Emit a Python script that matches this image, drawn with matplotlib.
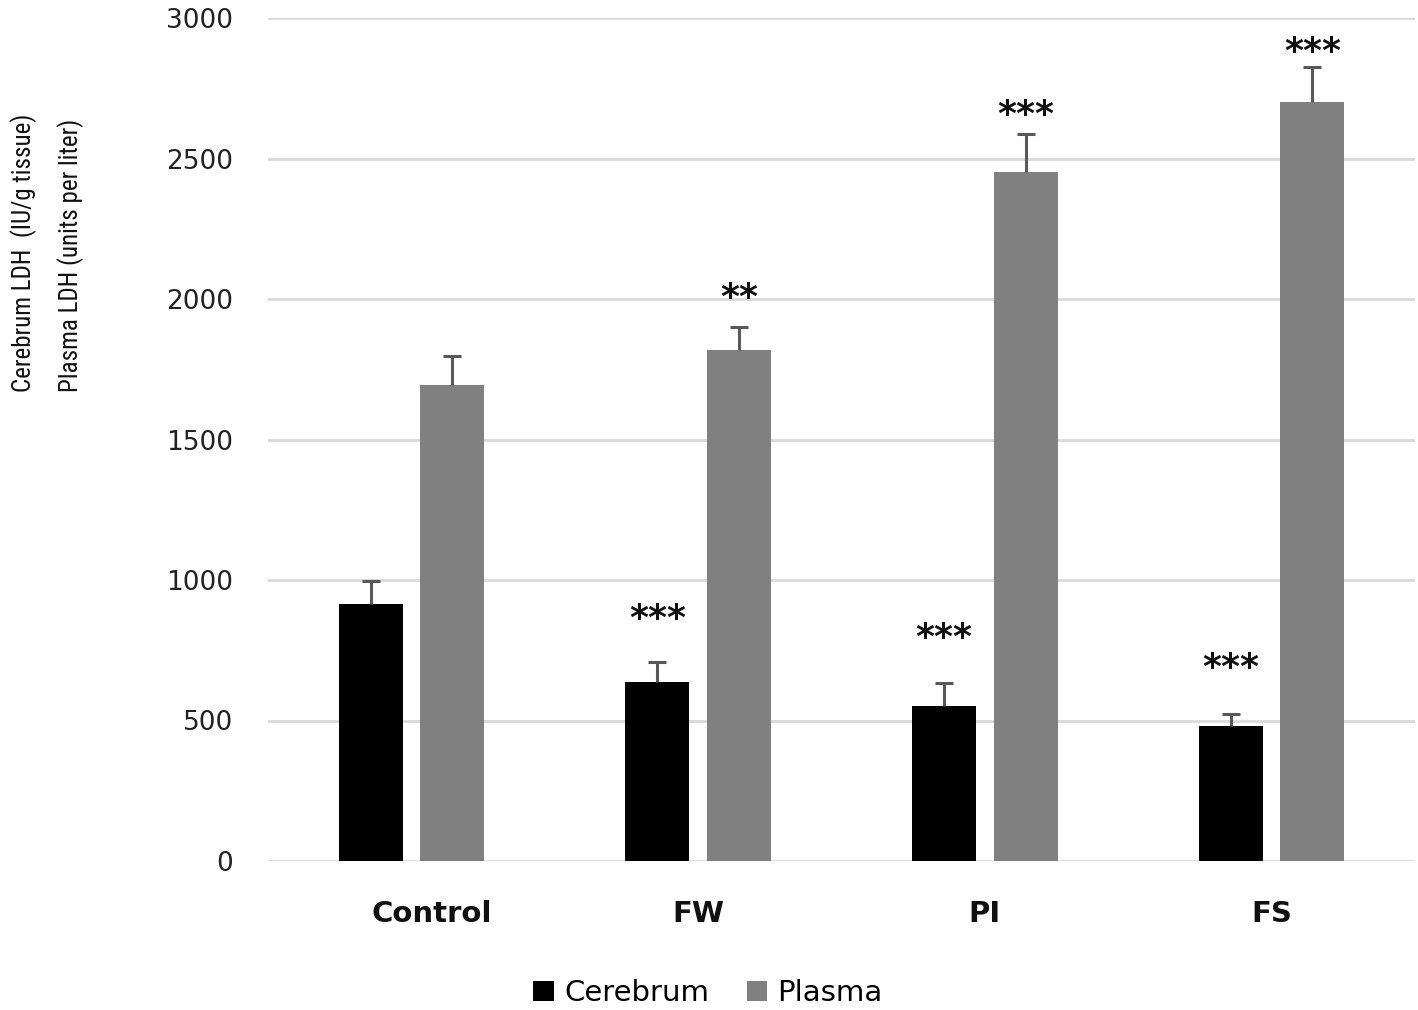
import matplotlib
matplotlib.use("Agg")
import matplotlib.pyplot as plt
import matplotlib.transforms as mtransforms
from matplotlib.patches import Patch
import numpy as np

categories = ["Control", "FW", "PI", "FS"]
cerebrum = [914, 637, 552, 480]
cerebrum_err = [82, 71, 81, 43]
plasma = [1694, 1818, 2452, 2701]
plasma_err = [103, 82, 135, 125]
cerebrum_sig = ["", "***", "***", "***"]
plasma_sig = ["", "**", "***", "***"]
yticks = [0, 500, 1000, 1500, 2000, 2500, 3000]

# label offsets (points) above the error-bar caps
cer_sig_off = [0, 19, 20, 21]
pla_sig_off = [0, 9, 1.5, -1.5]

fig = plt.figure(figsize=(14.18, 10.10), dpi=100)
ax = fig.add_axes([268/1418, 1-861/1010, (1415-268)/1418, (861-18)/1010])

x = np.arange(len(categories))
w = 0.223
off = 0.142
ax.bar(x - off, cerebrum, w, color="black", zorder=3)
ax.bar(x + off, plasma, w, color="#808080", zorder=3)
ekw = dict(ecolor="#595959", elinewidth=2.2, capthick=2.2)
for xs, vals, errs in [(x - off, cerebrum, cerebrum_err), (x + off, plasma, plasma_err)]:
    cont = ax.errorbar(xs, vals, yerr=[np.zeros(len(vals)), errs], fmt="none",
                       capsize=6.5, zorder=4, **ekw)
    caps = cont[1]
    if len(caps) > 0:
        caps[0].set_visible(False)

for i in range(len(categories)):
    if cerebrum_sig[i]:
        ax.annotate(cerebrum_sig[i], (x[i] - off, cerebrum[i] + cerebrum_err[i]),
                    xytext=(0, cer_sig_off[i]), textcoords="offset points", ha="center", va="bottom",
                    fontsize=26, fontweight="bold", color="#111111", annotation_clip=False)
    if plasma_sig[i]:
        ax.annotate(plasma_sig[i], (x[i] + off, plasma[i] + plasma_err[i]),
                    xytext=(0, pla_sig_off[i]), textcoords="offset points", ha="center", va="bottom",
                    fontsize=26, fontweight="bold", color="#111111", annotation_clip=False)

ax.set_xlim(-0.5, 3.5)
ax.set_ylim(0, 3000)
ax.set_yticks(yticks)
ax.set_yticklabels([str(t) for t in yticks], fontsize=19, color="#222222")
ax.set_xticks(x)
ax.set_xticklabels(categories, fontsize=21, fontweight="bold", color="#111111")
ax.tick_params(axis="both", length=0)
ax.tick_params(axis="y", pad=25)
ax.tick_params(axis="x", pad=28)
lab0 = ax.get_xticklabels()[0]
lab0.set_transform(lab0.get_transform() + mtransforms.ScaledTranslation(20/100, 0, fig.dpi_scale_trans))

ax.yaxis.grid(True, color="#d9d9d9", linewidth=2, zorder=0)
for s in ax.spines.values():
    s.set_visible(False)

lab_font = ["Roboto Condensed", "Liberation Sans", "DejaVu Sans"]
fig.text(24/1418, 1-253/1010, "Cerebrum LDH  (IU/g tissue)", rotation=90,
         ha="center", va="center", fontsize=18, family=lab_font, color="#111111")
fig.text(71/1418, 1-255/1010, "Plasma LDH (units per liter)", rotation=90,
         ha="center", va="center", fontsize=18, family=lab_font, color="#111111")

handles = [Patch(facecolor="black", label="Cerebrum"),
           Patch(facecolor="#808080", label="Plasma")]
fig.legend(handles=handles, loc="center", bbox_to_anchor=(708/1418, 1-993/1010),
           ncol=2, frameon=False, fontsize=21, handlelength=0.7, handleheight=0.7,
           handletextpad=0.35, columnspacing=1.3)

fig.savefig("out.png", dpi=100)
